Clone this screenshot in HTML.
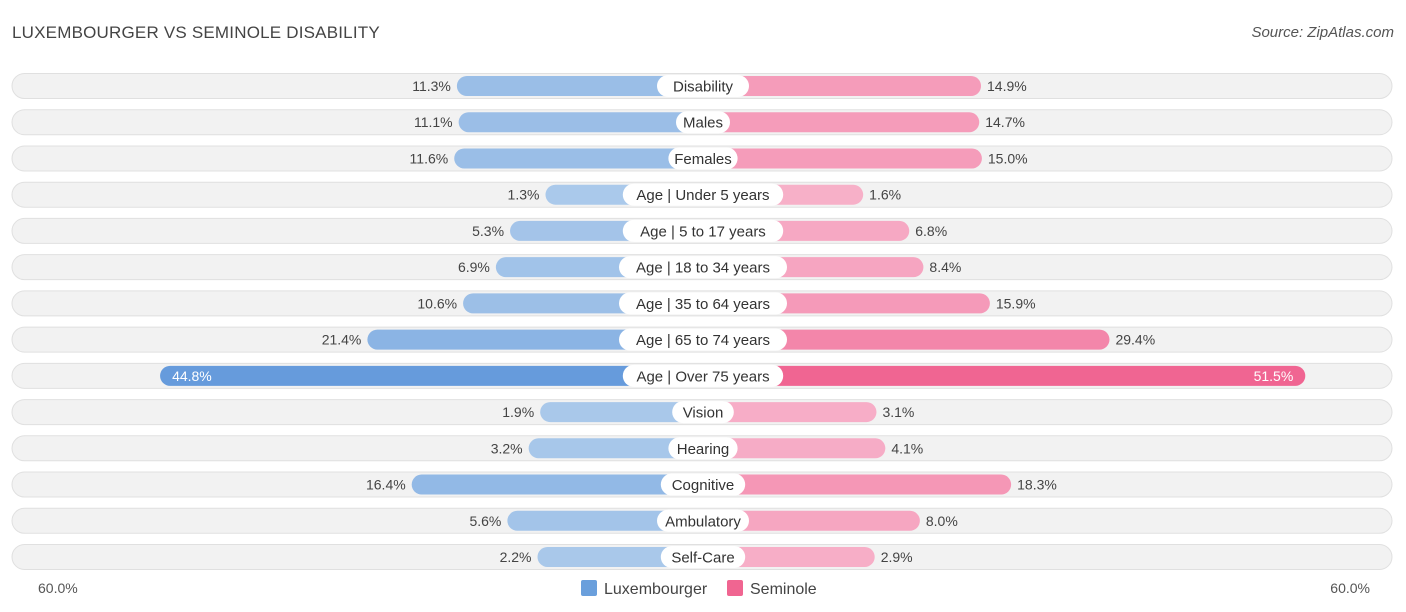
<!DOCTYPE html>
<html><head><meta charset="utf-8"><style>
body{margin:0;background:#fff;font-family:"Liberation Sans",sans-serif;}
#wrap{position:relative;width:1406px;height:612px;overflow:hidden;}
.title{position:absolute;left:12px;top:23px;font-size:17px;color:#444;letter-spacing:0.2px}
.src{position:absolute;right:12px;top:24px;font-size:15px;color:#555;font-style:italic}
</style></head><body>
<div id="wrap">
<div class="title">LUXEMBOURGER VS SEMINOLE DISABILITY</div>
<div class="src">Source: ZipAtlas.com</div>
<svg id="svg" width="1406" height="612" style="position:absolute;left:0;top:0"></svg>
</div>
<script>
const categories=["Disability","Males","Females","Age | Under 5 years","Age | 5 to 17 years","Age | 18 to 34 years","Age | 35 to 64 years","Age | 65 to 74 years","Age | Over 75 years","Vision","Hearing","Cognitive","Ambulatory","Self-Care"];
const luxembourger=[11.3,11.1,11.6,1.3,5.3,6.9,10.6,21.4,44.8,1.9,3.2,16.4,5.6,2.2];
const seminole=[14.9,14.7,15.0,1.6,6.8,8.4,15.9,29.4,51.5,3.1,4.1,18.3,8.0,2.9];
const axisLabels=["60.0%","60.0%"];
const NS="http://www.w3.org/2000/svg";
const svg=document.getElementById('svg');
const cx=703, base=146, k=8.86, y0=86, dy=36.23;
function w(v){return base+k*v;}
function ry(i){return y0+i*dy;}
function mix(a,b,t){return 'rgb('+a.map((c,j)=>Math.round(c+(b[j]-c)*t)).join(',')+')';}
function el(tag,attrs,parent){const e=document.createElementNS(NS,tag);for(const a in attrs)e.setAttribute(a,attrs[a]);(parent||svg).appendChild(e);return e;}
categories.forEach((c,i)=>{
  const y=ry(i);
  const g=el('g',{});
  
  
  const bg=el('rect',{x:12,y:y-12.5,width:1380,height:25,rx:12.5,fill:'#f2f2f2',stroke:'#e0e0e0','stroke-width':1},g);
  
  
  const lv=luxembourger[i], sv=seminole[i];
  const tl=Math.min(1,lv/45), ts=Math.min(1,sv/52);
  const lw=w(lv), sw=w(sv);
  const lb=el('rect',{x:cx-lw,y:y-10,width:lw,height:20,rx:10,fill:mix([172,202,235],[102,155,220],tl)},g);
  
  
  const sb=el('rect',{x:cx,y:y-10,width:sw,height:20,rx:10,fill:mix([247,178,202],[240,100,145],ts)},g);
  
  
  const tw=c.length*7.6+16;
  const lp=el('rect',{x:cx-tw/2,y:y-11,width:tw,height:22,rx:11,fill:'#fff'},g);
  
  
  const t=el('text',{x:cx,y:y+5.5,'text-anchor':'middle','font-size':15,fill:'#333'},g);
  t.textContent=c;
  
  
  const inside=lv>40;
  const lt=el('text',{x:inside?cx-lw+12:cx-lw-6,y:y+5,'text-anchor':inside?'start':'end','font-size':14,fill:inside?'#fff':'#444'},g);
  lt.textContent=lv.toFixed(1)+'%';
  
  
  const ins2=sv>40;
  const st=el('text',{x:ins2?cx+sw-12:cx+sw+6,y:y+5,'text-anchor':ins2?'end':'start','font-size':14,fill:ins2?'#fff':'#444'},g);
  st.textContent=sv.toFixed(1)+'%';
  
  
});
const a1=el('text',{x:38,y:593,'font-size':14,fill:'#555'});a1.textContent=axisLabels[0];


const a2=el('text',{x:1370,y:593,'font-size':14,fill:'#555','text-anchor':'end'});a2.textContent=axisLabels[1];


const l1=el('rect',{x:581,y:580,width:16,height:16,rx:2,fill:'#6a9fdc'});


const l1t=el('text',{x:604,y:594,'font-size':16,fill:'#444'});l1t.textContent='Luxembourger';


const l2=el('rect',{x:727,y:580,width:16,height:16,rx:2,fill:'#f06591'});


const l2t=el('text',{x:750,y:594,'font-size':16,fill:'#444'});l2t.textContent='Seminole';


</script>
</body></html>
